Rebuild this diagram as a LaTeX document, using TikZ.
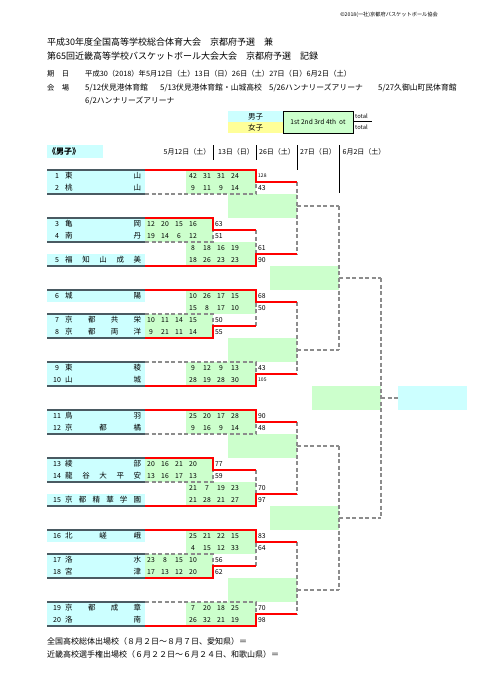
\documentclass[tikz,border=0pt]{standalone}
\usepackage{fontspec}
\setmainfont{Noto Sans CJK JP}
\usetikzlibrary{positioning}
\usepackage{xcolor}

\definecolor{grn}{HTML}{CCFFCC}
\definecolor{cyn}{HTML}{CCFFFF}
\definecolor{ylw}{HTML}{FFFF99}
\definecolor{slate}{HTML}{4A5A62}
\definecolor{lgray}{HTML}{8C8C8C}

% team row: y, number, name (spread with \hfill)
\newcommand{\school}[3]{%
  \node[num] (n#2) at (57,#1) {#2};
  \node[nm, anchor=west] (s#2) at (65,#1) {\hbox to 76pt{#3}};
}
% four period scores starting at x
\newcommand{\pts}[3]{\foreach \v [count=\i from 0] in {#3} \node[sc] at ({#1+14*\i},#2) {\v};}

\begin{document}
\begin{tikzpicture}[x=1pt, y=-1pt,
    every node/.style={inner sep=0pt},
    win/.style={red, line width=1.9pt},
    lose/.style={lgray, line width=1.2pt, dash pattern=on 4pt off 2.5pt},
    teamline/.style={slate, line width=1.5pt},
    num/.style={font=\fontsize{7}{8}\selectfont},
    nm/.style={font=\fontsize{7.5}{8}\selectfont},
    sc/.style={font=\fontsize{6.8}{7}\selectfont},
    tiny3/.style={font=\fontsize{5}{6}\selectfont},
    info/.style={font=\fontsize{7.3}{8}\selectfont, anchor=west},
    place/.style={font=\fontsize{7.8}{8}\selectfont, anchor=west}]
  \useasboundingbox (0,0) rectangle (481,680);
  \fill[white] (0,0) rectangle (481,680);

  % heading
  \node[font=\fontsize{5.2}{6}\selectfont, anchor=east] (copy) at (438,15) {©2018(一社)京都府バスケットボール協会};
  \node[font=\fontsize{9}{10}\selectfont, anchor=west] (title1) at (47,42) {平成30年度全国高等学校総合体育大会　京都府予選　兼};
  \node[font=\fontsize{9}{10}\selectfont, anchor=west] (title2) at (47,56) {第65回近畿高等学校バスケットボール大会大会　京都府予選　記録};
  \node[info] (kijitsu) at (47,74) {期　日};
  \node[info] (dates) at (85,74) {平成30（2018）年5月12日（土）13日（日）26日（土）27日（日）6月2日（土）};
  \node[info] (kaijo) at (47,88) {会　場};
  \node[place] (venue1) at (85,88) {5/12伏見港体育館};
  \node[place] (venue2) at (160,88) {5/13伏見港体育館・山城高校};
  \node[place] (venue3) at (269,88) {5/26ハンナリーズアリーナ};
  \node[place] (venue4) at (378,88) {5/27久御山町民体育館};
  \node[place] (venue5) at (85,101) {6/2ハンナリーズアリーナ};

  % legend
  \fill[cyn] (228,111) rectangle (283,122);
  \fill[ylw] (228,122) rectangle (283,133);
  \draw[fill=grn, line width=0.8pt] (283,111) rectangle (353,133);
  \node[nm] (lboys) at (255.5,116.5) {男子};
  \node[nm] (lgirls) at (255.5,127.5) {女子};
  \node[font=\fontsize{6.6}{7}\selectfont] (lq) at (318,122) {1st 2nd 3rd 4th\ \ ot};
  \node[font=\fontsize{5.8}{6}\selectfont, anchor=west] (lt1) at (355,116) {total};
  \node[font=\fontsize{5.8}{6}\selectfont, anchor=west] (lt2) at (355,127.5) {total};
  \draw[line width=0.6pt] (353,121.5) -- (372,121.5);

  % column heads
  \fill[cyn] (47,145) rectangle (103,158);
  \node[font=\fontsize{8}{9}\selectfont\bfseries, anchor=west] (boys) at (48,151.5) {《男子》};
  \node[num] (d1) at (187,152) {5月12日（土）};
  \node[num] (d2) at (236,152) {13日（日）};
  \node[num] (d3) at (277,152) {26日（土）};
  \node[num] (d4) at (318,152) {27日（日）};
  \node[num] (d5) at (364,152) {6月2日（土）};
  \draw[line width=0.8pt] (213,145) -- (213,160) (256,145) -- (256,160)
    (297,145) -- (297,170) (339,145) -- (339,193);

  % team cells
  \foreach \a/\b in {170/194, 218/242, 254/266, 290/302, 314/338, 362/386,
                     410/434, 458/482, 494/506, 530/542, 554/578, 602/626}
    \fill[cyn] (47,\a) rectangle (145,\b);
  % score cells
  \foreach \a in {218, 314, 458, 554} \fill[grn] (145,\a) rectangle (213,\a+24);
  \foreach \a in {170, 242, 290, 362, 410, 482, 530, 602} \fill[grn] (186,\a) rectangle (256,\a+24);
  \foreach \a in {194, 338, 434, 578} \fill[grn] (228,\a) rectangle (297,\a+24);
  \foreach \a in {266, 506} \fill[grn] (270,\a) rectangle (339,\a+24);
  \fill[grn] (312,386) rectangle (381,410);
  \fill[cyn] (398,386) rectangle (467,410);

  \foreach \a in {170, 194, 218, 242, 266, 290, 314, 338, 362, 386,
                  410, 434, 458, 482, 506, 530, 554, 578, 602, 626}
    \draw[teamline] (47,\a) -- (145,\a);

  % teams
  \school{176}{1}{東\hfill 山}
  \school{188}{2}{桃\hfill 山}
  \school{224}{3}{亀\hfill 岡}
  \school{236}{4}{南\hfill 丹}
  \school{260}{5}{福\hfill 知\hfill 山\hfill 成\hfill 美}
  \school{296}{6}{城\hfill 陽}
  \school{320}{7}{京\hfill 都\hfill 共\hfill 栄}
  \school{332}{8}{京\hfill 都\hfill 両\hfill 洋}
  \school{368}{9}{東\hfill 稜}
  \school{380}{10}{山\hfill 城}
  \school{416}{11}{鳥\hfill 羽}
  \school{428}{12}{京\hfill 都\hfill 橘}
  \school{464}{13}{綾\hfill 部}
  \school{476}{14}{龍\hfill 谷\hfill 大\hfill 平\hfill 安}
  \school{500}{15}{京\hfill 都\hfill 精\hfill 華\hfill 学\hfill 園}
  \school{536}{16}{北\hfill 嵯\hfill 峨}
  \school{560}{17}{洛\hfill 水}
  \school{572}{18}{宮\hfill 津}
  \school{608}{19}{京\hfill 都\hfill 成\hfill 章}
  \school{620}{20}{洛\hfill 南}

  % first round scores
  \pts{151}{224}{12,20,15,16} \node[sc, anchor=west] at (215,224) {63};
  \pts{151}{236}{19,14,6,12}  \node[sc, anchor=west] at (215,236) {51};
  \pts{151}{320}{10,11,14,15} \node[sc, anchor=west] at (215,320) {50};
  \pts{151}{332}{9,21,11,14}  \node[sc, anchor=west] at (215,332) {55};
  \pts{151}{464}{20,16,21,20} \node[sc, anchor=west] at (215,464) {77};
  \pts{151}{476}{13,16,17,13} \node[sc, anchor=west] at (215,476) {59};
  \pts{151}{560}{23,8,15,10}  \node[sc, anchor=west] at (215,560) {56};
  \pts{151}{572}{17,13,12,20} \node[sc, anchor=west] at (215,572) {62};

  % second round scores
  \pts{193}{176}{42,31,31,24} \node[tiny3, anchor=west] at (258,176) {128};
  \pts{193}{188}{9,11,9,14}   \node[sc, anchor=west] at (258,188) {43};
  \pts{193}{248}{8,18,16,19}  \node[sc, anchor=west] at (258,248) {61};
  \pts{193}{260}{18,26,23,23} \node[sc, anchor=west] at (258,260) {90};
  \pts{193}{296}{10,26,17,15} \node[sc, anchor=west] at (258,296) {68};
  \pts{193}{308}{15,8,17,10}  \node[sc, anchor=west] at (258,308) {50};
  \pts{193}{368}{9,12,9,13}   \node[sc, anchor=west] at (258,368) {43};
  \pts{193}{380}{28,19,28,30} \node[tiny3, anchor=west] at (258,380) {105};
  \pts{193}{416}{25,20,17,28} \node[sc, anchor=west] at (258,416) {90};
  \pts{193}{428}{9,16,9,14}   \node[sc, anchor=west] at (258,428) {48};
  \pts{193}{488}{21,7,19,23}  \node[sc, anchor=west] at (258,488) {70};
  \pts{193}{500}{21,28,21,27} \node[sc, anchor=west] at (258,500) {97};
  \pts{193}{536}{25,21,22,15} \node[sc, anchor=west] at (258,536) {83};
  \pts{193}{548}{4,15,12,33}  \node[sc, anchor=west] at (258,548) {64};
  \pts{193}{608}{7,20,18,25}  \node[sc, anchor=west] at (258,608) {70};
  \pts{193}{620}{26,32,21,19} \node[sc, anchor=west] at (258,620) {98};

  % losers
  \draw[lose] (145,242) -- (213,242) -- (213,230);
  \draw[lose] (145,314) -- (213,314) -- (213,326);
  \draw[lose] (145,482) -- (213,482) -- (213,470);
  \draw[lose] (145,554) -- (213,554) -- (213,566);
  \draw[lose] (145,194) -- (256,194) -- (256,182);
  \draw[lose] (256,230) -- (256,254);
  \draw[lose] (256,326) -- (256,302);
  \draw[lose] (145,362) -- (256,362) -- (256,374);
  \draw[lose] (145,434) -- (256,434) -- (256,422);
  \draw[lose] (256,470) -- (256,494);
  \draw[lose] (256,566) -- (256,542);
  \draw[lose] (145,602) -- (256,602) -- (256,614);

  % games still to play
  \draw[lose] (297,182) -- (297,254) (297,206) -- (339,206);
  \draw[lose] (297,302) -- (297,374) (297,350) -- (339,350);
  \draw[lose] (297,422) -- (297,494) (297,446) -- (339,446);
  \draw[lose] (297,542) -- (297,614) (297,590) -- (339,590);
  \draw[lose] (339,206) -- (339,350) (339,278) -- (381,278);
  \draw[lose] (339,446) -- (339,590) (339,518) -- (381,518);
  \draw[lose] (381,278) -- (381,518) (381,398) -- (398,398);

  % winners
  \draw[win] (145,218) -- (213,218) -- (213,230) -- (256,230);
  \draw[win] (145,338) -- (213,338) -- (213,326) -- (256,326);
  \draw[win] (145,458) -- (213,458) -- (213,470) -- (256,470);
  \draw[win] (145,578) -- (213,578) -- (213,566) -- (256,566);
  \draw[win] (145,170) -- (256,170) -- (256,182) -- (297,182);
  \draw[win] (145,266) -- (256,266) -- (256,254) -- (297,254);
  \draw[win] (145,290) -- (256,290) -- (256,302) -- (297,302);
  \draw[win] (145,386) -- (256,386) -- (256,374) -- (297,374);
  \draw[win] (145,410) -- (256,410) -- (256,422) -- (297,422);
  \draw[win] (145,506) -- (256,506) -- (256,494) -- (297,494);
  \draw[win] (145,530) -- (256,530) -- (256,542) -- (297,542);
  \draw[win] (145,626) -- (256,626) -- (256,614) -- (297,614);

  % footer
  \node[font=\fontsize{8}{9}\selectfont, anchor=west] (foot1) at (47,641) {全国高校総体出場校（８月２日～８月７日、愛知県）＝};
  \node[font=\fontsize{8}{9}\selectfont, anchor=west] (foot2) at (47,654) {近畿高校選手権出場校（６月２２日～６月２４日、和歌山県）＝};
\end{tikzpicture}
\end{document}
